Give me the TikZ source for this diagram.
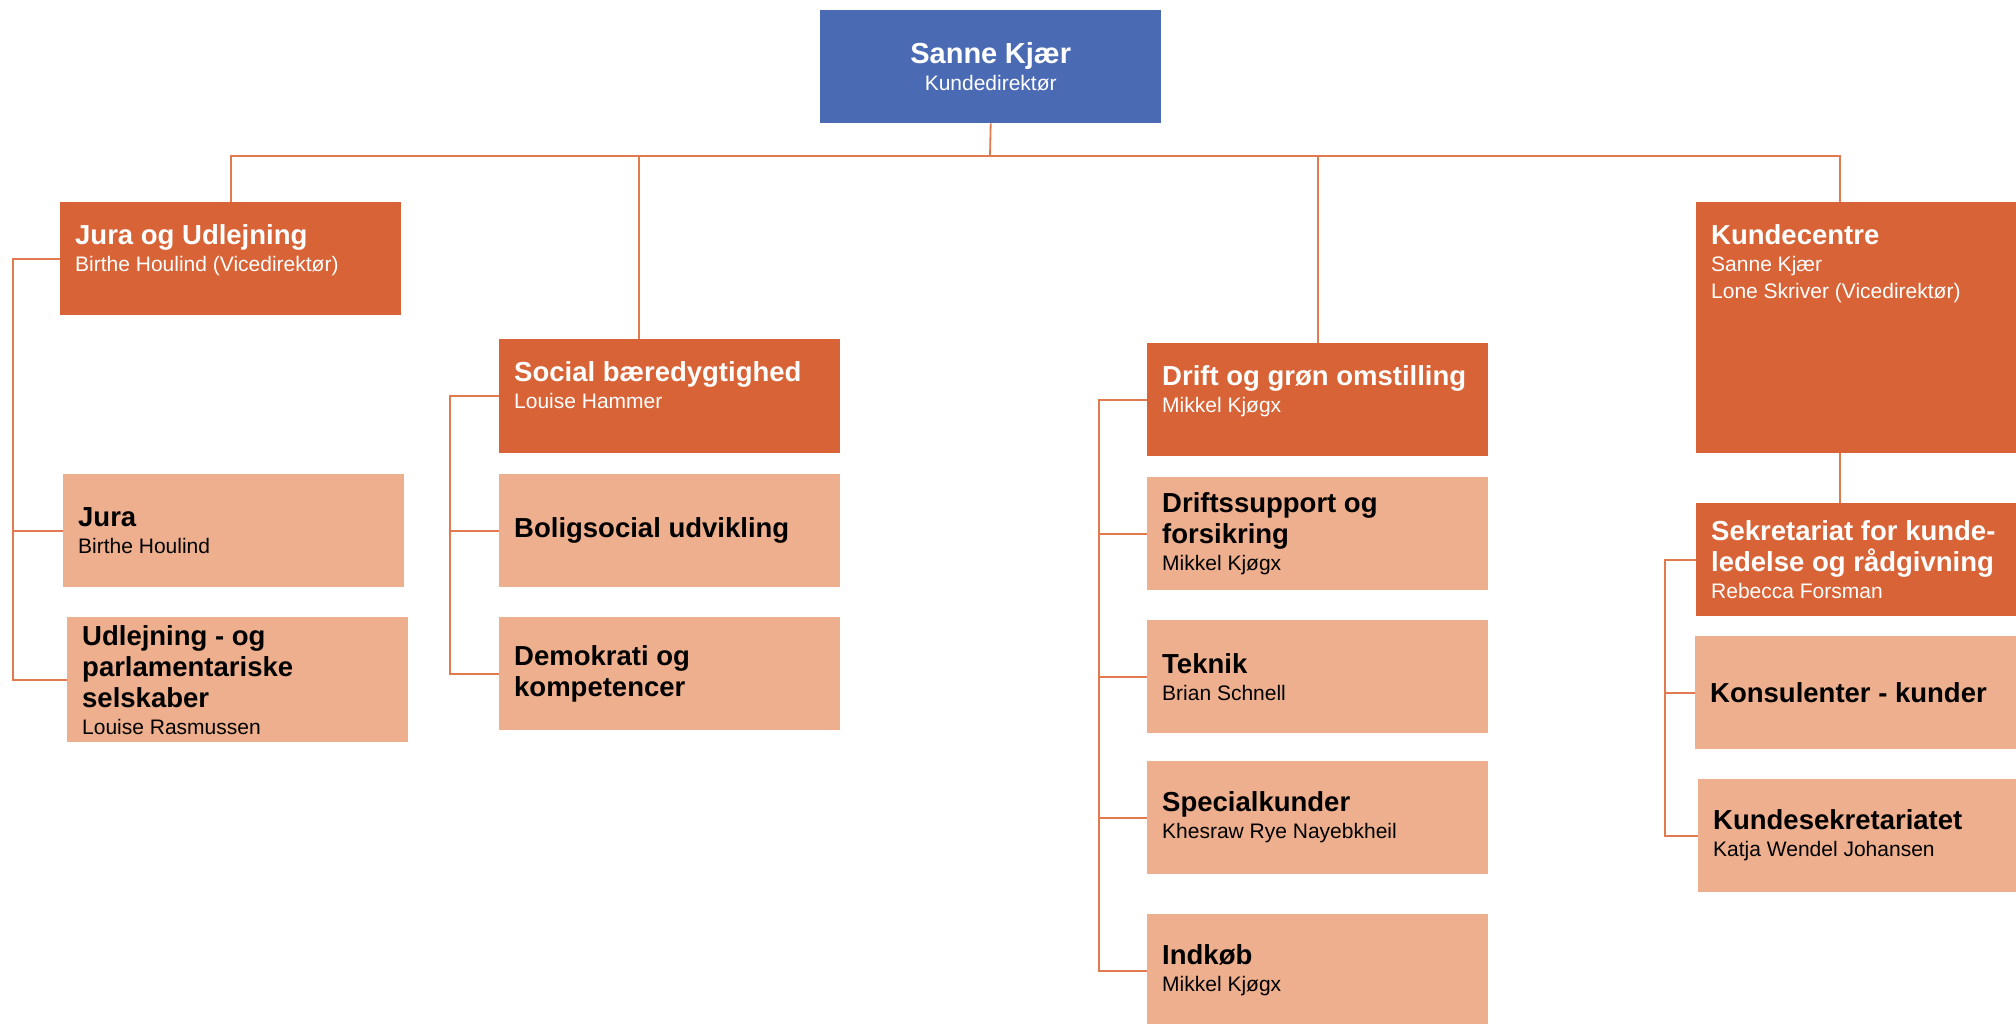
\documentclass[tikz,border=0pt]{standalone}
\usepackage{fontspec}
\setmainfont{Liberation Sans}
\usetikzlibrary{positioning}
\definecolor{dirblue}{HTML}{4A6AB4}
\definecolor{unitor}{HTML}{D86336}
\definecolor{teamor}{HTML}{EDAF8D}
\definecolor{linkor}{HTML}{E27A50}
\newcommand{\hd}[1]{{\fontsize{27.5}{31}\selectfont\bfseries\spaceskip=\fontdimen2\font\xspaceskip=0pt #1\par}}
\newcommand{\nm}[1]{{\fontsize{21}{27}\selectfont\spaceskip=\fontdimen2\font\xspaceskip=0pt #1\par}}
\newcommand{\topfit}[2]{\parbox[c][#1][t]{311pt}{\raggedright\vspace{22pt}#2}}
\tikzset{
  box/.style={rectangle, anchor=north west, inner sep=0pt, minimum width=341pt},
  chief/.style={box, fill=dirblue, text=white, minimum height=113pt, text width=311pt, align=center},
  unit/.style={box, fill=unitor, text=white, inner xsep=15pt},
  unitc/.style={unit, minimum height=113pt, text width=311pt, align=left},
  team/.style={box, fill=teamor, text=black, inner xsep=15pt, minimum height=113pt, text width=311pt, align=left},
  link/.style={draw=linkor, line width=1.8pt}
}
\begin{document}
\begin{tikzpicture}[x=1pt, y=-1pt]
    \useasboundingbox (0,0) rectangle (2016,1024);
    \clip (0,0) rectangle (2016,1024);

    \node[chief] (dir) at (820,10) {\hd{\fontsize{29}{31}\selectfont Sanne Kjær}\nm{Kundedirektør}};

    \node[unit] (jou) at (60,202) {\topfit{113pt}{\hd{Jura og Udlejning}\nm{Birthe Houlind (Vicedirektør)}}};
    \node[unit] (soc) at (499,339) {\topfit{114pt}{\hd{Social bæredygtighed}\nm{Louise Hammer}}};
    \node[unit] (drift) at (1147,343) {\topfit{113pt}{\hd{Drift og grøn omstilling}\nm{Mikkel Kjøgx}}};
    \node[unit] (kc) at (1696,202) {\topfit{251pt}{\hd{Kundecentre}\nm{Sanne Kjær}\nm{Lone Skriver (Vicedirektør)}}};

    \node[team] (jura) at (63,474) {\hd{Jura}\nm{Birthe Houlind}};
    \node[team, minimum height=125pt] (udl) at (67,617) {\hd{Udlejning - og\\parlamentariske\\selskaber}\nm{Louise Rasmussen}};

    \node[team] (bol) at (499,474) {\hd{Boligsocial udvikling}};
    \node[team] (dem) at (499,617) {\hd{Demokrati og\\kompetencer}};

    \node[team] (dsu) at (1147,477) {\hd{Driftssupport og\\forsikring}\nm{Mikkel Kjøgx}};
    \node[team] (tek) at (1147,620) {\hd{Teknik}\nm{Brian Schnell}};
    \node[team] (spk) at (1147,761) {\hd{Specialkunder}\nm{Khesraw Rye Nayebkheil}};
    \node[team] (ind) at (1147,914) {\hd{Indkøb}\nm{Mikkel Kjøgx}};

    \node[unitc] (sek) at (1696,503) {\hd{Sekretariat for kunde-\\ledelse og rådgivning}\nm{Rebecca Forsman}};
    \node[team] (kon) at (1695,636) {\hd{Konsulenter - kunder}};
    \node[team] (ksek) at (1698,779) {\hd{Kundesekretariatet}\nm{Katja Wendel Johansen}};

    \coordinate (bus) at (990,156);
    \coordinate (jbr) at (13,0);
    \coordinate (sbr) at (450,0);
    \coordinate (dbr) at (1099,0);
    \coordinate (kbr) at (1665,0);

    \draw[link] (dir.south) -- (bus);
    \draw[link] (bus) -| (jou.north);
    \draw[link] (bus) -| ([xshift=-31pt]soc.north);
    \draw[link] (bus) -| (drift.north);
    \draw[link] (bus) -| ([xshift=144pt]kc.north west);
    \draw[link] ([xshift=144pt]kc.south west) -- ([xshift=144pt]sek.north west);

    \draw[link] (jou.west) -- (jou.west -| jbr) |- (udl.west);
    \draw[link] (jura.west) -- (jura.west -| jbr);

    \draw[link] (soc.west) -- (soc.west -| sbr) |- (dem.west);
    \draw[link] (bol.west) -- (bol.west -| sbr);

    \draw[link] (drift.west) -- (drift.west -| dbr) |- (ind.west);
    \draw[link] (dsu.west) -- (dsu.west -| dbr);
    \draw[link] (tek.west) -- (tek.west -| dbr);
    \draw[link] (spk.west) -- (spk.west -| dbr);

    \draw[link] (sek.west) -- (sek.west -| kbr) |- (ksek.west);
    \draw[link] (kon.west) -- (kon.west -| kbr);
\end{tikzpicture}
\end{document}
